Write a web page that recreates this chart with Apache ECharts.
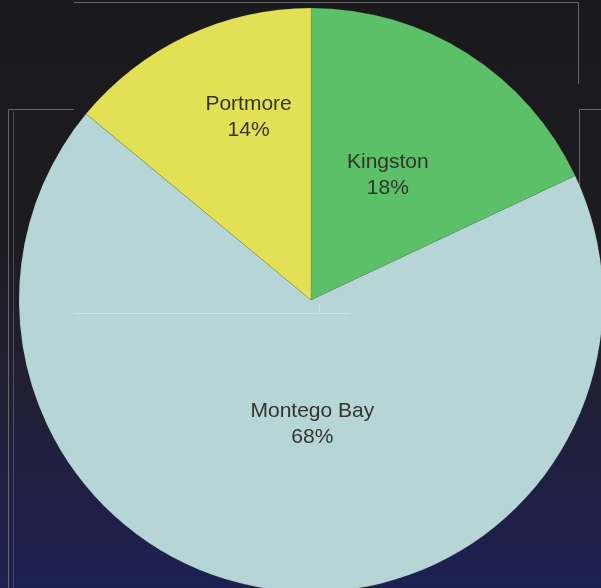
<!DOCTYPE html>
<html>
<head>
<meta charset="utf-8">
<script src="https://cdn.jsdelivr.net/npm/echarts@6/dist/echarts.min.js"></script>
<style>
html,body{margin:0;padding:0;}
#chart{width:601px;height:588px;background:linear-gradient(to bottom,#1a191c 0%,#1c1b20 35%,#211f30 62%,#1f2046 85%,#1d2152 100%);}
</style>
</head>
<body>
<div id="chart"></div>
<script>
var categories = ['Kingston', 'Montego Bay', 'Portmore'];
var values = [18, 68, 14];
var colors = ['#5cc068', '#b5d5d6', '#e2e055'];
var labelShift = [[-3, 1], [20, -24], [1, -48]];

var chart = echarts.init(document.getElementById('chart'), null, {renderer: 'canvas'});
var lineStyleDark = {stroke: '#66666c', lineWidth: 1};
var option = {
  animation: false,
  graphic: [
    {type: 'polyline', z: 0, shape: {points: [[74, 2.5], [578.5, 2.5], [578.5, 84]]}, style: lineStyleDark},
    {type: 'polyline', z: 0, shape: {points: [[74, 109.5], [8.5, 109.5], [8.5, 588]]}, style: lineStyleDark},
    {type: 'line', z: 0, shape: {x1: 13.5, y1: 111, x2: 13.5, y2: 588}, style: {stroke: '#4a4a5a', lineWidth: 1}},
    {type: 'polyline', z: 0, shape: {points: [[601, 109.5], [579.5, 109.5], [579.5, 300]]}, style: lineStyleDark},
    {type: 'line', z: 100, shape: {x1: 74, y1: 313.5, x2: 350, y2: 313.5}, style: {stroke: 'rgba(255,255,255,0.3)', lineWidth: 1}},
    {type: 'line', z: 100, shape: {x1: 319.5, y1: 305, x2: 319.5, y2: 313}, style: {stroke: 'rgba(255,255,255,0.25)', lineWidth: 1}}
  ],
  series: [{
    type: 'pie',
    z: 2,
    center: [311, 300],
    radius: [0, 292],
    startAngle: 90,
    clockwise: true,
    silent: true,
    data: categories.map(function (c, i) {
      return {name: c, value: values[i], itemStyle: {color: colors[i]}};
    }),
    itemStyle: {borderColor: 'rgba(60,70,30,0.12)', borderWidth: 1},
    label: {
      show: true,
      position: 'inside',
      formatter: function (p) { return p.name + '\n' + p.value + '%'; },
      fontFamily: '"Liberation Sans", Arial, sans-serif',
      fontSize: 21,
      lineHeight: 26,
      color: '#35332f',
      align: 'center'
    },
    labelLine: {show: false},
    labelLayout: function (params) {
      var s = labelShift[params.dataIndex];
      return {dx: s[0], dy: s[1]};
    }
  }]
};
chart.setOption(option);
</script>
</body>
</html>
